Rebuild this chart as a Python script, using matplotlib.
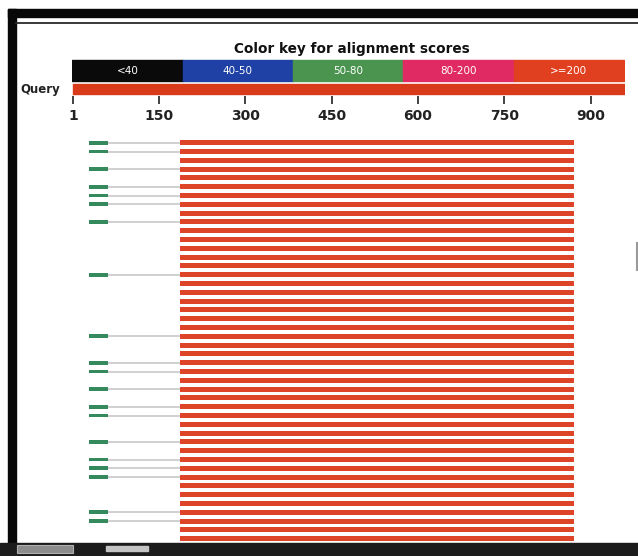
import numpy as np
import matplotlib.pyplot as plt
from matplotlib.patches import Rectangle

# query and score key
query_len = 958
key_labels = ['<40', '40-50', '50-80', '80-200', '>=200']
key_colors = ['#0a0a0a', '#1f41a6', '#4b9450', '#df2a63', '#e0401f']
tick_pos = [1, 150, 300, 450, 600, 750, 900]

# hits: one long HSP per subject row
n_rows = 46
hit_rows = np.arange(n_rows)
hit_start = np.full(n_rows, 187)
hit_end = np.full(n_rows, 871)

# subjects that also have a short HSP near the query start
short_rows = [0, 1, 3, 5, 6, 7, 9, 15, 22, 25, 26, 28, 30, 31, 34, 36, 37,
              38, 42, 43]
short_start = [28] * len(short_rows)
short_end = [62] * len(short_rows)

W, H = 638, 556
fig = plt.figure(figsize=(W / 100, H / 100), dpi=100)

def px_axes(x0, y0, x1, y1):
    return fig.add_axes([x0 / W, 1 - y1 / H, (x1 - x0) / W, (y1 - y0) / H])

# window frame around the graphic
bg = fig.add_axes([0, 0, 1, 1])
bg.set_xlim(0, W)
bg.set_ylim(H, 0)
bg.axis('off')
bg.add_patch(Rectangle((8, 9), W - 8, 8, color='#080808'))
bg.add_patch(Rectangle((8, 9), 8, 535, color='#080808'))
bg.plot([16, W], [23, 23], color='#2a2a2a', lw=1.3)
bg.add_patch(Rectangle((0, 543), W, 13, color='#1c1c1c'))
bg.add_patch(Rectangle((17, 545), 56, 8, facecolor='#8c8c8c',
                       edgecolor='#b0b0b0', lw=0.8))
bg.add_patch(Rectangle((106, 546), 42, 5, color='#c4c4c4'))
bg.plot([636.5, 636.5], [243, 270], color='#9a9a9a', lw=1.5)

# colour key and query bar
head = px_axes(72.4, 58, 624, 96)
head.set_xlim(0, query_len)
head.set_ylim(96, 58)
seg = query_len / len(key_labels)
for i, (lab, col) in enumerate(zip(key_labels, key_colors)):
    head.broken_barh([(i * seg, seg)], (60, 21), color=col)
    head.text(i * seg + seg / 2, 70.5, lab, color='white', ha='center',
              va='center', fontsize=7.5)
head.broken_barh([(1, query_len - 1)], (84, 10), color='#d83a1a')
for s in head.spines.values():
    s.set_visible(False)
head.set_yticks([])
head.set_xticks(tick_pos)
head.tick_params(axis='x', direction='out', length=6, width=1.3,
                 color='#333333', pad=3, labelsize=10, labelcolor='#222222')
for t in head.get_xticklabels():
    t.set_fontweight('bold')
fig.text(352 / W, 1 - 49 / H, 'Color key for alignment scores',
         ha='center', va='center', fontsize=9.8, fontweight='bold',
         color='#111111')
fig.text(20 / W, 1 - 89 / H, 'Query', ha='left', va='center', fontsize=8.5,
         fontweight='bold', color='#222222')

# alignment rows
ax = px_axes(72.4, 135, 624, 542)
ax.set_xlim(0, query_len)
ax.set_ylim(n_rows - 0.625, -0.875)
ax.axis('off')
ax.hlines(short_rows, short_end, hit_start[short_rows], color='#c8c8c8',
          lw=1.2, zorder=1)
ax.barh(hit_rows, hit_end - hit_start, left=hit_start, height=0.56,
        color='#de4428', zorder=2)
ax.barh(short_rows, np.array(short_end) - np.array(short_start),
        left=short_start, height=0.42, color='#348a5c', zorder=2)

plt.savefig('out.png', dpi=100)
